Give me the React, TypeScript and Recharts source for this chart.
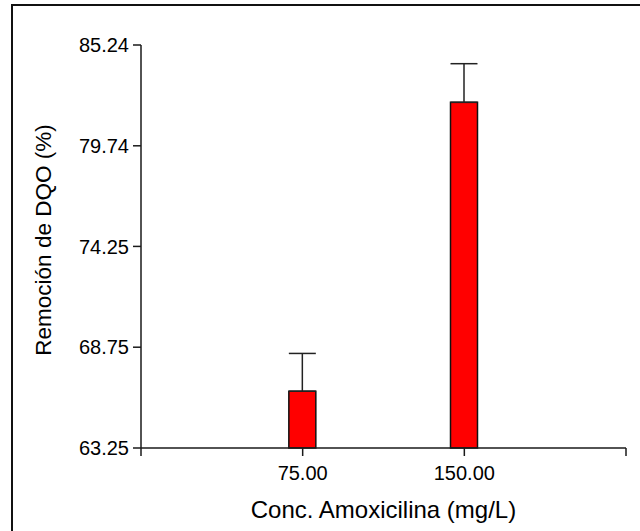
import { BarChart, Bar, XAxis, YAxis, ErrorBar, Label } from "recharts";

// Amoxicillin concentration (mg/L), COD removal (%) and upper error
const concentrations = [75, 150];
const removal = [66.35, 82.11];
const removalErr = [2.06, 2.11];

const xTicks = [0, 75, 150, 225];
const yTicks = [63.25, 68.75, 74.25, 79.74, 85.24];

const data = concentrations.map((c, i) => ({
  conc: c,
  removal: removal[i],
  err: [0, removalErr[i]],
}));

const axisColor = "#1a1a1a";
const font = "'Liberation Sans', Arial, sans-serif";

function YTitle() {
  return (
    <text
      x={43}
      y={240}
      transform="rotate(-90 43 240)"
      textAnchor="middle"
      dominantBaseline="central"
      fontSize={22.5}
      fill="#000"
      fontFamily={font}
    >
      Remoción de DQO (%)
    </text>
  );
}

export default function App() {
  return (
    <div
      style={{
        position: "absolute",
        left: 0,
        top: 0,
        width: 640,
        height: 531,
        overflow: "hidden",
        background: "#fff",
        fontFamily: font,
      }}
    >
      <div
        style={{
          position: "absolute",
          left: 11,
          top: 4,
          width: 700,
          height: 700,
          border: "2px solid #111",
        }}
      />
      <div style={{ position: "absolute", left: 0, top: 0 }}>
        <BarChart
          width={640}
          height={531}
          data={data}
          margin={{ top: 45, right: 14, bottom: 0, left: 0 }}
        >
          <XAxis
            type="number"
            dataKey="conc"
            domain={[0, 225]}
            ticks={xTicks}
            tickFormatter={(v: number) => (v === 75 || v === 150 ? v.toFixed(2) : "")}
            height={83}
            tickSize={8}
            tickMargin={10}
            axisLine={{ stroke: axisColor, strokeWidth: 1.5 }}
            tickLine={{ stroke: axisColor, strokeWidth: 1.5 }}
            tick={{ fill: "#000", fontSize: 20, fontFamily: font }}
          >
            <Label
              value="Conc. Amoxicilina (mg/L)"
              position="insideBottom"
              offset={13}
              fontSize={24}
              fill="#000"
              fontFamily={font}
            />
          </XAxis>
          <YAxis
            type="number"
            domain={[63.25, 85.24]}
            ticks={yTicks}
            tickFormatter={(v: number) => v.toFixed(2)}
            width={141}
            tickSize={8}
            tickMargin={4}
            axisLine={{ stroke: axisColor, strokeWidth: 1.5 }}
            tickLine={{ stroke: axisColor, strokeWidth: 1.5 }}
            tick={{ fill: "#000", fontSize: 20, fontFamily: font }}
          >
            <Label content={<YTitle />} />
          </YAxis>
          <Bar
            dataKey="removal"
            barSize={27}
            fill="#ff0000"
            stroke="#111"
            strokeWidth={1.5}
            isAnimationActive={false}
          >
            <ErrorBar
              dataKey="err"
              width={13.5}
              stroke="#222"
              strokeWidth={1.5}
              direction="y"
              isAnimationActive={false}
            />
          </Bar>
        </BarChart>
      </div>
    </div>
  );
}
